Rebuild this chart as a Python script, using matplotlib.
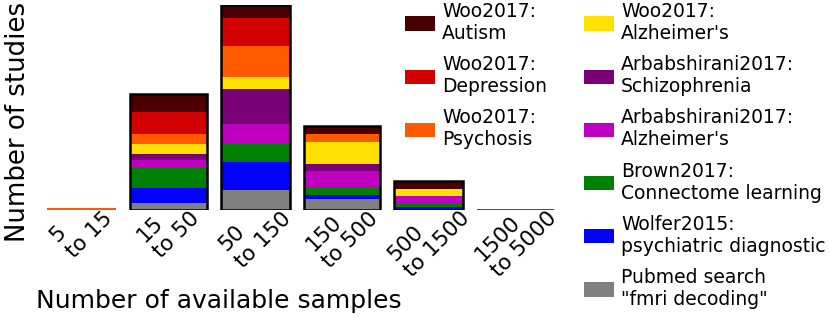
import numpy as np
import matplotlib
matplotlib.use("Agg")
import matplotlib.pyplot as plt
from matplotlib.patches import Patch
from matplotlib.ticker import NullLocator, FixedLocator

# ---- data ----
bin_edges = [5, 15, 50, 150, 500, 1500, 5000]
tick_labels = ["5\nto 15", "15\nto 50", "50\nto 150", "150\nto 500",
               "500\nto 1500", "1500\nto 5000"]

# stacked bottom -> top
pubmed = [0.00, 0.15, 0.40, 0.23, 0.01, 0.01]
wolfer = [0.00, 0.30, 0.57, 0.07, 0.05, 0.00]
brown = [0.00, 0.39, 0.38, 0.135, 0.067, 0.01]
arb_alz = [0.00, 0.17, 0.36, 0.35, 0.147, 0.00]
arb_schiz = [0.00, 0.12, 0.71, 0.135, 0.00, 0.00]
woo_alz = [0.00, 0.196, 0.23, 0.436, 0.14, 0.00]
woo_psych = [0.04, 0.20, 0.62, 0.155, 0.00, 0.00]
woo_dep = [0.00, 0.44, 0.57, 0.00, 0.00, 0.01]
woo_aut = [0.00, 0.36, 0.26, 0.16, 0.16, 0.00]

series_names = ['Pubmed search\n"fmri decoding"', "Wolfer2015:\npsychiatric diagnostic",
                "Brown2017:\nConnectome learning", "Arbabshirani2017:\nAlzheimer's",
                "Arbabshirani2017:\nSchizophrenia", "Woo2017:\nAlzheimer's",
                "Woo2017:\nPsychosis", "Woo2017:\nDepression", "Woo2017:\nAutism"]
series_values = [pubmed, wolfer, brown, arb_alz, arb_schiz, woo_alz,
                 woo_psych, woo_dep, woo_aut]
series_colors = ["#808080", "#0000ff", "#008000", "#c000c0", "#7a0078",
                 "#ffe000", "#ff5a00", "#d20000", "#4a0000"]

# ---- figure ----
fig = plt.figure(figsize=(8.3, 3.17), dpi=100)
ax = fig.add_axes([40 / 830, 107 / 317, 521 / 830, 205 / 317])
ax.set_xscale("log")

edges = np.array(bin_edges, dtype=float)
gap = 1.097
lefts = edges[:-1] * gap
rights = edges[1:] / gap
widths = rights - lefts
centers = np.sqrt(edges[:-1] * edges[1:])

bottom = np.zeros(len(lefts))
handles = []
for name, vals, col in zip(series_names, series_values, series_colors):
    vals = np.array(vals, dtype=float)
    ax.bar(lefts, vals, width=widths, bottom=bottom, align="edge",
           color=col, linewidth=0)
    bottom = bottom + vals
    handles.append(Patch(facecolor=col, edgecolor="none", label=name))

totals = bottom
mask = totals > 0.2
ax.bar(lefts[mask], totals[mask], width=widths[mask], align="edge",
       fill=False, edgecolor="black", linewidth=1.8)

ax.set_xlim(bin_edges[0], bin_edges[-1])
ax.set_ylim(0, totals.max())
ax.xaxis.set_minor_locator(NullLocator())
ax.xaxis.set_major_locator(FixedLocator(centers))
ax.set_xticklabels(tick_labels, rotation=45, fontsize=15.5, multialignment="left")
ax.tick_params(axis="x", length=0, pad=-13)
ax.set_yticks([])
for s in ax.spines.values():
    s.set_visible(False)

ax.set_xlabel("Number of available samples", fontsize=18)
ax.xaxis.set_label_coords(0.3436, -0.384)
ax.set_ylabel("Number of studies", fontsize=18.7)
ax.yaxis.set_label_coords(-0.017, 0.43)

# legends (top-to-bottom = top-to-bottom of the stack)
rev = handles[::-1]
leg_kw = dict(frameon=False, fontsize=13.5, handlelength=1.6, handleheight=0.8,
              handletextpad=0.37, labelspacing=0.65, borderpad=0, borderaxespad=0,
              loc="upper left")
leg1 = fig.legend(handles=rev[:3], bbox_to_anchor=(405 / 830, 1 - 2 / 317), **leg_kw)
leg2 = fig.legend(handles=rev[3:], bbox_to_anchor=(584 / 830, 1 - 2 / 317), **leg_kw)

fig.savefig("out.png", dpi=100)
